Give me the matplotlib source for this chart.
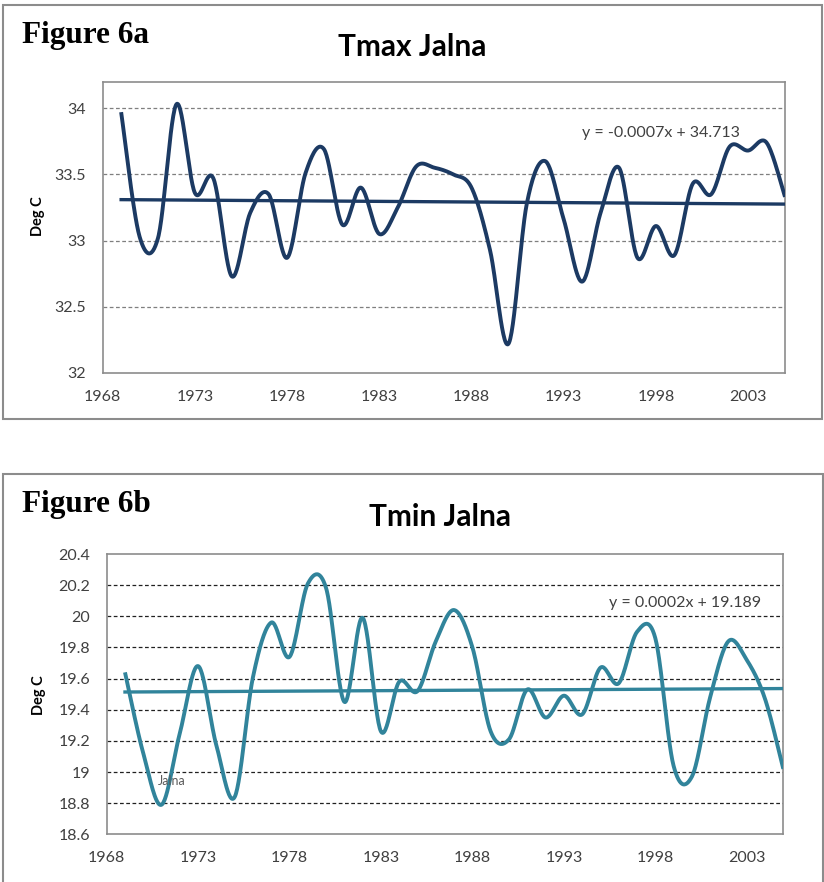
import numpy as np
import matplotlib
matplotlib.use("Agg")
import matplotlib.pyplot as plt
from matplotlib.patches import Rectangle

################### Data #####################
# yearly means (1969-2005)
years = list(range(1969, 2006))

tmax = [33.97, 33.03, 33.02, 34.03, 33.36, 33.47, 32.73, 33.21, 33.35, 32.87,
        33.51, 33.69, 33.12, 33.40, 33.05, 33.25, 33.56, 33.55, 33.50, 33.40,
        32.93, 32.22, 33.28, 33.60, 33.16, 32.69, 33.21, 33.55, 32.87, 33.11,
        32.89, 33.43, 33.35, 33.71, 33.68, 33.74, 33.33]

tmin = [19.64, 19.12, 18.79, 19.25, 19.68, 19.17, 18.84, 19.61, 19.96, 19.74,
        20.21, 20.18, 19.45, 19.99, 19.26, 19.58, 19.52, 19.84, 20.04, 19.80,
        19.26, 19.21, 19.53, 19.35, 19.49, 19.37, 19.67, 19.57, 19.90, 19.86,
        19.04, 18.97, 19.48, 19.84, 19.72, 19.47, 19.02]

xticks = [1968, 1973, 1978, 1983, 1988, 1993, 1998, 2003]
tmax_yticks = [32, 32.5, 33, 33.5, 34]
tmin_yticks = [18.6, 18.8, 19, 19.2, 19.4, 19.6, 19.8, 20, 20.2, 20.4]

tmax_eq = "y = -0.0007x + 34.713"
tmin_eq = "y = 0.0002x + 19.189"

################### Helpers #####################
SANS = ["Lato", "DejaVu Sans"]
SERIF = ["Liberation Serif", "DejaVu Serif"]
W, H = 824, 882


# Excel style smoothed line: bezier segments with catmull-rom control points
def smooth_curve(xs, ys, n=30):
    x = np.asarray(xs, float)
    y = np.asarray(ys, float)
    px = np.concatenate([[x[0]], x, [x[-1]]])
    py = np.concatenate([[y[0]], y, [y[-1]]])
    t = np.linspace(0, 1, n)[:, None]
    out = []
    for i in range(len(x) - 1):
        p0 = np.array([px[i], py[i]])
        p1 = np.array([px[i + 1], py[i + 1]])
        p2 = np.array([px[i + 2], py[i + 2]])
        p3 = np.array([px[i + 3], py[i + 3]])
        c1 = p1 + (p2 - p0) / 6
        c2 = p2 - (p3 - p1) / 6
        seg = ((1 - t) ** 3) * p1 + 3 * ((1 - t) ** 2) * t * c1 + 3 * (1 - t) * t ** 2 * c2 + t ** 3 * p2
        out.append(seg if i == 0 else seg[1:])
    out = np.vstack(out)
    return out[:, 0], out[:, 1]


# pixel box -> figure fraction rect
def px_rect(x0, y0, x1, y1):
    return [x0 / W, 1 - y1 / H, (x1 - x0) / W, (y1 - y0) / H]


def draw_panel(fig, rect, vals, color, ylim, yticks, grid_color):
    ax = fig.add_axes(rect)
    sx, sy = smooth_curve(years, vals)
    ax.plot(sx, sy, color=color, lw=2.8, solid_capstyle="butt", zorder=3)
    # linear trend over the data years
    k, b = np.polyfit(years, vals, 1)
    yr = np.array([years[0], years[-1]])
    ax.plot(yr, k * yr + b, color=color, lw=2.4, zorder=3)

    ax.set_xlim(1968, 2005)
    ax.set_ylim(*ylim)
    ax.set_xticks(xticks)
    ax.set_yticks(yticks)
    ax.set_yticklabels(["%g" % v for v in yticks])
    ax.tick_params(length=0, labelsize=11.5, labelcolor="#404040")
    ax.tick_params(axis="x", pad=12)
    ax.tick_params(axis="y", pad=12)
    for lab in ax.get_xticklabels() + ax.get_yticklabels():
        lab.set_family(SANS)
    # dashed gridlines, not on the top border
    for v in yticks:
        if ylim[0] < v < ylim[1] - 1e-9:
            ax.axhline(v, color=grid_color, lw=0.9, ls=(0, (3, 2)), zorder=1)
    for s in ax.spines.values():
        s.set_color("#8c8c8c")
        s.set_linewidth(1.2)
    return ax


fig = plt.figure(figsize=(W / 100, H / 100), dpi=100)

# outer chart boxes
for (x0, y0, x1, y1) in [(3, 5, 822, 419), (3, 474, 822.5, 895)]:
    fig.patches.append(Rectangle((x0 / W, 1 - y1 / H), (x1 - x0) / W, (y1 - y0) / H,
                                 transform=fig.transFigure, fill=False,
                                 edgecolor="#8c8c8c", lw=1.5))

#################### Figure 6a ######################
ax1 = draw_panel(fig, px_rect(102.7, 81.7, 785, 373), tmax, "#1c3a63",
                 (32, 34.2), tmax_yticks, "#7f7f7f")
fig.text(22 / W, 1 - 43.5 / H, "Figure 6a", family=SERIF, weight="bold",
         fontsize=22.5, ha="left", va="baseline")
fig.text(412 / W, 1 - 55.5 / H, "Tmax Jalna", family=SANS, weight="bold",
         fontsize=21.5, ha="center", va="baseline")
fig.text(38 / W, 1 - 216 / H, "Deg C", family=SANS, weight="bold",
         fontsize=10.5, rotation=90, ha="center", va="center")
fig.text(661 / W, 1 - 133 / H, tmax_eq, family=SANS, fontsize=11.5,
         color="#404040", ha="center", va="center")

#################### Figure 6b ######################
ax2 = draw_panel(fig, px_rect(106.7, 554, 783.3, 834.3), tmin, "#31849b",
                 (18.6, 20.4), tmin_yticks, "#202020")
fig.text(22 / W, 1 - 512 / H, "Figure 6b", family=SERIF, weight="bold",
         fontsize=22.5, ha="left", va="baseline")
fig.text(440 / W, 1 - 526.5 / H, "Tmin Jalna", family=SANS, weight="bold",
         fontsize=21.5, ha="center", va="baseline")
fig.text(39 / W, 1 - 695 / H, "Deg C", family=SANS, weight="bold",
         fontsize=10.5, rotation=90, ha="center", va="center")
fig.text(685 / W, 1 - 603 / H, tmin_eq, family=SANS, fontsize=11.5,
         color="#404040", ha="center", va="center")
fig.text(172 / W, 1 - 781 / H, "Jalna", family=SANS, fontsize=9,
         color="#595959", ha="center", va="center")

fig.savefig("out.png", dpi=100)
